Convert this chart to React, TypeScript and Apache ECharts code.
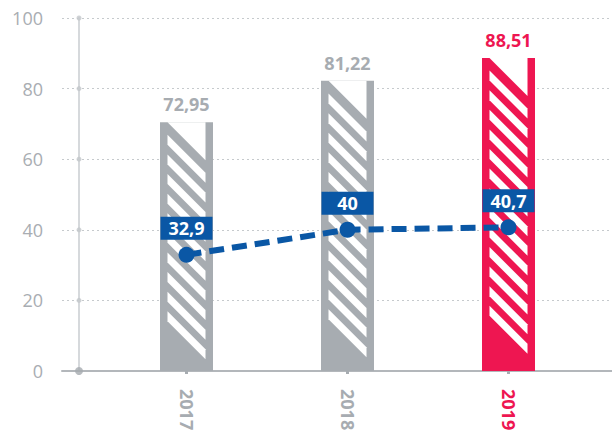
import React, { useEffect, useRef } from 'react';
import * as echarts from 'echarts';

const categories = ['2017', '2018', '2019'];
// bar heights as drawn in the picture, and the values printed above them
const barHeights = [70.5, 82.2, 88.7];
const barLabels = [72.95, 81.22, 88.51];
const lineValues = [32.9, 40, 40.7];
const yTicks = [0, 20, 40, 60, 80, 100];
const highlightIndex = 2;

const GRAY = '#a7acb1';
const RED = '#ee1651';
const BLUE = '#0a57a5';
const FONT = '"Open Sans", "Noto Sans", sans-serif';
const BAR_W = 53;

const fmt = (v: number) => String(v).replace('.', ',');

export default function App() {
  const ref = useRef<HTMLDivElement>(null);

  useEffect(() => {
    if (!ref.current) return;
    const chart = echarts.init(ref.current, undefined, { renderer: 'svg' });

    const renderStripes = (params: any, api: any) => {
      const idx = api.value(0);
      const top = api.coord([idx, api.value(1)]);
      const bottom = api.coord([idx, 0]);
      const L = top[0] - BAR_W / 2;
      const inL = L + 7.5;
      const inR = L + BAR_W - 7.5;
      const iw = inR - inL;
      const T = top[1];
      const B = bottom[1];
      const children: any[] = [];
      children.push({
        type: 'polygon',
        shape: { points: [[inL, T], [inR, T], [inR, T + iw]] },
        style: { fill: '#ffffff' },
      });
      for (let k = 0; k < 40; k++) {
        const a = T + 12.7 + 19.6 * k;
        const b = a + 10;
        if (b + iw > B - 9) break;
        children.push({
          type: 'polygon',
          shape: { points: [[inL, a], [inR, a + iw], [inR, b + iw], [inL, b]] },
          style: { fill: '#ffffff' },
        });
      }
      return { type: 'group', children };
    };

    const gridPos = { top: 18, bottom: 63 };
    const option: any = {
      animation: false,
      grid: [
        { left: 62, right: 0, ...gridPos },
        { left: 79, right: 0, ...gridPos },
        { left: 106, right: 23, ...gridPos },
      ],
      xAxis: [
        {
          gridIndex: 0,
          type: 'value',
          min: 0,
          max: 1,
          axisLine: { show: true, onZero: false, lineStyle: { color: '#b3b7bb', width: 2 } },
          axisTick: { show: false },
          axisLabel: { show: false },
          splitLine: { show: false },
        },
        { gridIndex: 1, type: 'value', min: 0, max: 1, show: false },
        {
          gridIndex: 2,
          type: 'category',
          data: categories,
          axisLine: { show: false },
          axisTick: { show: true, alignWithLabel: true, length: 3, lineStyle: { color: GRAY, width: 3 } },
          axisLabel: {
            rotate: -90,
            margin: 18,
            fontSize: 18,
            fontWeight: 'bold',
            fontFamily: FONT,
            color: (_v: any, i: number) => (i === highlightIndex ? RED : GRAY),
          },
        },
      ],
      yAxis: [
        {
          gridIndex: 0,
          type: 'value',
          min: 0,
          max: 100,
          interval: 20,
          axisLine: { show: false },
          axisTick: { show: false },
          axisLabel: { show: false },
          splitLine: { show: true, lineStyle: { color: '#c6cacd', type: [2, 3], width: 1 } },
        },
        {
          gridIndex: 1,
          type: 'value',
          min: 0,
          max: 100,
          interval: 20,
          axisLine: { show: true, lineStyle: { color: '#d6d9dc', width: 2 } },
          axisTick: { show: false },
          axisLabel: { margin: 36, fontSize: 18, fontFamily: FONT, color: '#a9adb2' },
          splitLine: { show: false },
        },
        { gridIndex: 2, type: 'value', min: 0, max: 100, interval: 20, show: false },
      ],
      series: [
        {
          type: 'scatter',
          xAxisIndex: 1,
          yAxisIndex: 1,
          data: yTicks.map((v) => [0, v]),
          symbolSize: (d: number[]) => (d[1] === 0 ? 8 : 5),
          itemStyle: {
            color: (p: any) => (p.value[1] === 0 ? '#a5aaaf' : '#c3c7cb'),
          },
          clip: false,
          silent: true,
          z: 4,
        },
        {
          type: 'bar',
          xAxisIndex: 2,
          yAxisIndex: 2,
          barWidth: BAR_W,
          data: barHeights.map((v, i) => ({
            value: v,
            itemStyle: { color: i === highlightIndex ? RED : GRAY },
            label: { color: i === highlightIndex ? RED : GRAY },
          })),
          label: {
            show: true,
            position: 'top',
            distance: 9,
            fontSize: 18,
            fontWeight: 'bold',
            fontFamily: FONT,
            formatter: (p: any) => fmt(barLabels[p.dataIndex]),
          },
          z: 2,
        },
        {
          type: 'custom',
          xAxisIndex: 2,
          yAxisIndex: 2,
          data: barHeights.map((v, i) => [i, v]),
          renderItem: renderStripes,
          silent: true,
          z: 3,
        },
        {
          type: 'line',
          xAxisIndex: 2,
          yAxisIndex: 2,
          data: lineValues,
          symbol: 'circle',
          symbolSize: 16,
          lineStyle: { color: BLUE, width: 6, type: [15, 8] },
          itemStyle: { color: BLUE },
          label: {
            show: true,
            position: 'top',
            distance: 7,
            backgroundColor: BLUE,
            color: '#ffffff',
            fontSize: 18,
            fontWeight: 'bold',
            fontFamily: FONT,
            width: 52,
            height: 17,
            lineHeight: 17,
            padding: [3, 0],
            align: 'center',
            formatter: (p: any) => fmt(p.value),
          },
          z: 5,
        },
      ],
    };
    chart.setOption(option);
    return () => chart.dispose();
  }, []);

  return (
    <div
      ref={ref}
      style={{ position: 'fixed', left: 0, top: 0, width: 612, height: 434, background: '#ffffff' }}
    />
  );
}
